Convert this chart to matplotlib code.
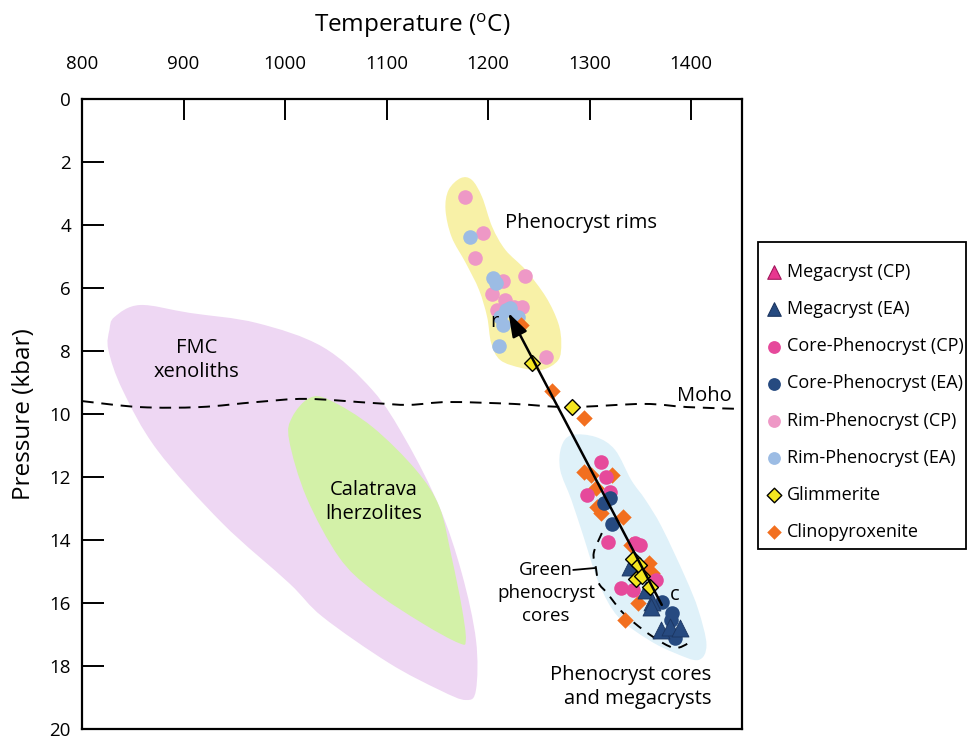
import numpy as np
import matplotlib.pyplot as plt
from matplotlib.path import Path
from matplotlib.patches import PathPatch, Rectangle

plt.rcParams['font.family'] = ['Open Sans', 'DejaVu Sans']

# ---- point data: temperature (C), pressure (kbar) ----
mega_cp_T = []
mega_cp_P = []
mega_ea_T = [1340, 1355, 1361, 1360, 1370, 1379, 1389]
mega_ea_P = [14.86, 15.59, 15.97, 16.13, 16.86, 16.76, 16.79]
core_cp_T = [1311, 1316, 1320, 1297, 1318, 1345, 1350, 1331, 1343, 1365]
core_cp_P = [11.52, 12.0, 12.48, 12.57, 14.06, 14.1, 14.16, 15.52, 15.59, 15.27]
core_ea_T = [1320, 1314, 1322, 1371, 1381, 1380, 1384]
core_ea_P = [12.67, 12.83, 13.49, 15.97, 16.32, 16.54, 17.11]
rim_cp_T = [1177, 1195, 1187, 1236, 1215, 1204, 1217, 1233, 1209, 1225, 1257]
rim_cp_P = [3.11, 4.25, 5.05, 5.62, 5.78, 6.19, 6.38, 6.6, 6.7, 6.6, 8.19]
rim_ea_T = [1182, 1205, 1208, 1218, 1212, 1229, 1215, 1222, 1211]
rim_ea_P = [4.38, 5.68, 5.84, 6.70, 6.92, 6.92, 7.17, 6.63, 7.84]
glim_T = [1243, 1283, 1343, 1349, 1346, 1352, 1359]
glim_P = [8.38, 9.78, 14.6, 14.8, 15.25, 15.15, 15.5]
cpx_T = [1232, 1263, 1294, 1294, 1301, 1322, 1306, 1307, 1311, 1333,
         1341, 1353, 1361, 1358, 1348, 1335]
cpx_P = [7.17, 9.27, 10.13, 11.84, 11.94, 11.94, 12.35, 12.95, 13.14, 13.27,
         14.16, 14.95, 15.05, 14.73, 16.0, 16.54]

# ---- outlines of the shaded fields ----
fmc_T = [832, 857, 906, 972, 1037, 1086, 1119, 1152, 1174, 1188, 1188, 1178,
         1152, 1102, 1037, 1004, 938, 874, 840, 826, 827]
fmc_P = [6.92, 6.54, 6.79, 7.11, 7.87, 9.24, 10.83, 12.95, 15.05, 17.17, 18.76,
         19.08, 18.76, 17.9, 16.44, 15.37, 13.46, 11.14, 9.24, 7.97, 7.33]
lherz_T = [1024, 1044, 1086, 1129, 1152, 1164, 1174, 1178, 1171, 1135, 1086,
           1053, 1021, 1004, 1007]
lherz_P = [9.49, 9.56, 10.41, 11.78, 12.95, 14.54, 16.13, 17.17, 17.27, 16.64,
           15.59, 14.54, 12.64, 10.83, 10.1]
rims_T = [1173, 1161, 1158, 1164, 1178, 1191, 1199, 1203, 1212, 1233, 1253,
          1269, 1272, 1269, 1257, 1237, 1217, 1204, 1194, 1184]
rims_P = [2.51, 2.89, 3.52, 4.38, 5.21, 6.06, 6.92, 7.75, 8.29, 8.54, 8.60,
          8.29, 7.75, 7.11, 6.29, 5.43, 4.79, 4.06, 3.11, 2.57]
cores_T = [1282, 1272, 1271, 1282, 1294, 1309, 1328, 1358, 1384, 1407, 1415,
           1407, 1394, 1371, 1355, 1341, 1325, 1306]
cores_P = [10.67, 11.05, 11.78, 12.73, 13.9, 15.37, 16.44, 17.17, 17.59, 17.81,
           17.33, 16.22, 15.17, 13.59, 12.73, 12.10, 11.14, 10.73]
green_T = [1312, 1304, 1306, 1309, 1317, 1333, 1353, 1372, 1385, 1397, 1399]
green_P = [13.78, 14.41, 14.86, 15.37, 15.68, 16.32, 16.86, 17.27, 17.43, 17.27, 17.08]
moho_T = [800, 857, 916, 972, 1021, 1086, 1122, 1161, 1225, 1280, 1353, 1396, 1450]
moho_P = [9.59, 9.78, 9.78, 9.62, 9.52, 9.65, 9.71, 9.62, 9.68, 9.78, 9.68, 9.78, 9.84]


def smooth_path(xs, ys, closed=True):
    # Catmull-Rom through the points, as cubic bezier segments
    pts = np.column_stack([xs, ys]).astype(float)
    n = len(pts)
    verts = [pts[0]]
    codes = [Path.MOVETO]
    segs = n if closed else n - 1
    for i in range(segs):
        if closed:
            p0, p1, p2, p3 = pts[i - 1], pts[i], pts[(i + 1) % n], pts[(i + 2) % n]
        else:
            p0 = pts[max(i - 1, 0)]
            p1, p2 = pts[i], pts[i + 1]
            p3 = pts[min(i + 2, n - 1)]
        verts += [p1 + (p2 - p0) / 6, p2 - (p3 - p1) / 6, p2]
        codes += [Path.CURVE4] * 3
    return Path(verts, codes)


fig = plt.figure(figsize=(9.71, 7.37), dpi=100)
ax = fig.add_axes([82 / 971, 8 / 737, 660 / 971, 630 / 737])

for xs, ys, col in [(fmc_T, fmc_P, '#eed7f3'), (lherz_T, lherz_P, '#d3f1a8'),
                    (rims_T, rims_P, '#f8f1a7'), (cores_T, cores_P, '#dff1f9')]:
    ax.add_patch(PathPatch(smooth_path(xs, ys), facecolor=col, edgecolor='none', zorder=1))

ax.add_patch(PathPatch(smooth_path(moho_T, moho_P, closed=False), fill=False,
                       edgecolor='black', lw=1.4, linestyle=(0, (6, 4)), zorder=2))
ax.add_patch(PathPatch(smooth_path(green_T, green_P, closed=False), fill=False,
                       edgecolor='black', lw=1.4, linestyle=(0, (5, 4)), zorder=2))
ax.plot([1284, 1305], [14.95, 14.89], color='black', lw=1.3, zorder=2)

ax.scatter(rim_cp_T, rim_cp_P, s=110, marker='o', color='#ee98c6', lw=0, zorder=3)
ax.scatter(rim_ea_T, rim_ea_P, s=110, marker='o', color='#9cbce4', lw=0, zorder=3)
ax.scatter(cpx_T, cpx_P, s=70, marker='D', color='#f26f1f', lw=0, zorder=3)
ax.scatter(core_cp_T, core_cp_P, s=110, marker='o', color='#e6499b', lw=0, zorder=3)
ax.scatter(core_ea_T, core_ea_P, s=110, marker='o', color='#264a80', lw=0, zorder=3)
ax.scatter(mega_ea_T, mega_ea_P, s=150, marker='^', color='#264a80',
           edgecolor='#1b3560', lw=0.6, zorder=4)
ax.scatter(glim_T, glim_P, s=65, marker='D', color='#f4e620', edgecolor='black',
           lw=1.0, zorder=4)

ax.annotate('', xy=(1220, 6.79), xytext=(1371, 16.06), zorder=5,
            arrowprops=dict(arrowstyle='-|>,head_length=0.9,head_width=0.3',
                            color='black', lw=1.8, mutation_scale=16, shrinkA=0, shrinkB=0))

fs = 14.5
ax.text(1291, 3.94, 'Phenocryst rims', fontsize=fs, ha='center', va='center', zorder=6)
ax.text(913, 8.29, 'FMC\nxenoliths', fontsize=fs, ha='center', va='center',
        linespacing=1.25, zorder=6)
ax.text(1087, 12.79, 'Calatrava\nlherzolites', fontsize=fs, ha='center', va='center',
        linespacing=1.25, zorder=6)
ax.text(1413, 9.43, 'Moho', fontsize=fs, ha='center', va='center', zorder=6)
ax.text(1257, 15.68, 'Green\nphenocryst\ncores', fontsize=13.5, ha='center',
        va='center', linespacing=1.33, zorder=6)
ax.text(1420, 18.67, 'Phenocryst cores\nand megacrysts', fontsize=fs, ha='right',
        va='center', multialignment='right', linespacing=1.25, zorder=6)
ax.text(1206, 7.08, 'r', fontsize=fs, ha='center', va='center', zorder=6)
ax.text(1384, 15.75, 'c', fontsize=fs, ha='center', va='center', zorder=6)

ax.set_xlim(800, 1450)
ax.set_ylim(20, 0)
ax.xaxis.tick_top()
ax.xaxis.set_label_position('top')
ax.set_xticks(range(800, 1401, 100))
ax.set_yticks(range(0, 21, 2))
ax.tick_params(axis='x', direction='in', length=15, width=1.4, pad=19, labelsize=13.5)
ax.tick_params(axis='y', direction='in', length=16, width=1.4, pad=8, labelsize=13.5)
for sp in ax.spines.values():
    sp.set_linewidth(1.6)
ax.set_xlabel(r'Temperature ($\mathregular{^o}$C)', fontsize=17.5, labelpad=16)
ax.set_ylabel('Pressure (kbar)', fontsize=17.5, labelpad=10)

# legend entries
handles = [
    ax.scatter(mega_cp_T, mega_cp_P, s=95, marker='^', color='#e8378f', edgecolor='#a3175c', lw=0.8),
    ax.scatter([], [], s=95, marker='^', color='#264a80', edgecolor='#1b3560', lw=0.8),
    ax.scatter([], [], s=85, marker='o', color='#e6499b', lw=0),
    ax.scatter([], [], s=85, marker='o', color='#264a80', lw=0),
    ax.scatter([], [], s=85, marker='o', color='#ee98c6', lw=0),
    ax.scatter([], [], s=85, marker='o', color='#9cbce4', lw=0),
    ax.scatter([], [], s=55, marker='D', color='#f4e620', edgecolor='black', lw=1.0),
    ax.scatter([], [], s=55, marker='D', color='#f26f1f', lw=0),
]
labels = ['Megacryst (CP)', 'Megacryst (EA)', 'Core-Phenocryst (CP)', 'Core-Phenocryst (EA)',
          'Rim-Phenocryst (CP)', 'Rim-Phenocryst (EA)', 'Glimmerite', 'Clinopyroxenite']
fig.add_artist(Rectangle((758 / 971, 1 - 549 / 737), 208 / 971, 307 / 737,
                         transform=fig.transFigure, fill=False, edgecolor='black', lw=1.3))
fig.legend(handles, labels, loc='upper left', bbox_to_anchor=(767 / 971, 1 - 263 / 737),
           fontsize=13, frameon=False, borderpad=0, labelspacing=1.06, handlelength=0.8,
           handletextpad=0.3, borderaxespad=0, scatterpoints=1)

fig.savefig('out.png', dpi=100)
